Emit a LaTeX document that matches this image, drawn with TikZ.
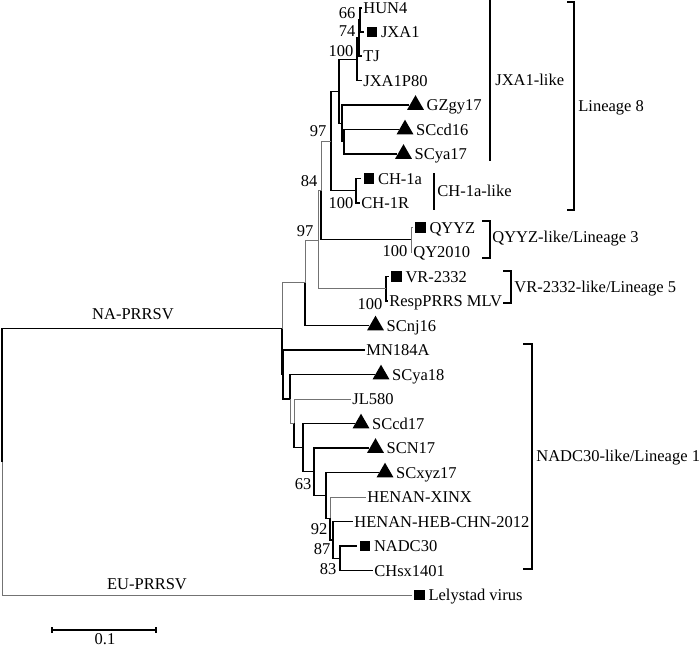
\documentclass[tikz,border=0pt]{standalone}
\usepackage{fontspec}
\setmainfont{Liberation Serif}
\usetikzlibrary{positioning,shapes.geometric}

\tikzset{
  br/.style={line width=0.6pt},
  brg/.style={line width=0.5pt, black!55},
  leaf/.style={anchor=west, inner sep=0.5pt, text height=5.5pt, text depth=0pt},
  bs/.style={inner sep=0pt, text height=5.5pt, text depth=0pt},
  sqmark/.style={fill, inner sep=0pt, minimum size=5.2pt, outer sep=1.2pt},
  trimark/.style={regular polygon, regular polygon sides=3, fill, inner sep=0pt, minimum size=9.8pt},
}

\begin{document}
\begin{tikzpicture}[x=0.5pt, y=-0.5pt, font=\fontsize{8.25}{10}\selectfont]
  \useasboundingbox (0,0) rectangle (700,648);

  % inner nodes of the tree
  \coordinate (root) at (2,462);
  \coordinate (nNA) at (282,328.75);
  \coordinate (n97b) at (305,282.75);
  \coordinate (nq) at (318,240);
  \coordinate (n84) at (321,190.5);
  \coordinate (nqy) at (411,239.75);
  \coordinate (nvr) at (386,288.75);
  \coordinate (n97a) at (331,141);
  \coordinate (nch) at (356,190.75);
  \coordinate (nj) at (339,91.3);
  \coordinate (n100j) at (357,59.2);
  \coordinate (n74) at (359,38);
  \coordinate (n66) at (360,20);
  \coordinate (ngz) at (342,123.4);
  \coordinate (ncy) at (344,141.75);
  \coordinate (nmn) at (283,374.5);
  \coordinate (nya) at (290,398.9);
  \coordinate (njl) at (294,423.3);
  \coordinate (ncd) at (303,447.6);
  \coordinate (n63) at (314,471.7);
  \coordinate (nxyz) at (326,495.5);
  \coordinate (n92) at (330,518.4);
  \coordinate (n87) at (333,539.9);
  \coordinate (n83) at (340,558.25);

  % leaves
  \node[leaf] (HUN4) at (362,8) {HUN4};
  \node[sqmark] (mJXA1) at (372,32) {};
  \node[leaf, right=0pt of mJXA1] (JXA1) {JXA1};
  \node[leaf] (TJ) at (362,56) {TJ};
  \node[leaf] (JXA1P80) at (362,80.5) {JXA1P80};
  \node[trimark] (mGZgy17) at (415.5,105) {};
  \node[leaf, right=1.8pt of mGZgy17] (GZgy17) {GZgy17};
  \node[trimark] (mSCcd16) at (405,129.5) {};
  \node[leaf, right=1.8pt of mSCcd16] (SCcd16) {SCcd16};
  \node[trimark] (mSCya17) at (403.5,154) {};
  \node[leaf, right=1.8pt of mSCya17] (SCya17) {SCya17};
  \node[sqmark] (mCH1a) at (369,178.5) {};
  \node[leaf, right=0pt of mCH1a] (CH1a) {CH-1a};
  \node[leaf] (CH1R) at (360,203) {CH-1R};
  \node[sqmark] (mQYYZ) at (420.5,227.5) {};
  \node[leaf, right=0pt of mQYYZ] (QYYZ) {QYYZ};
  \node[leaf] (QY2010) at (412,252) {QY2010};
  \node[sqmark] (mVR2332) at (396.5,276.5) {};
  \node[leaf, right=0pt of mVR2332] (VR2332) {VR-2332};
  \node[leaf] (RespMLV) at (388,301) {RespPRRS MLV};
  \node[trimark] (mSCnj16) at (375.5,325.5) {};
  \node[leaf, right=1.8pt of mSCnj16] (SCnj16) {SCnj16};
  \node[leaf] (MN184A) at (365,350) {MN184A};
  \node[trimark] (mSCya18) at (381,374.5) {};
  \node[leaf, right=1.8pt of mSCya18] (SCya18) {SCya18};
  \node[leaf] (JL580) at (351,399) {JL580};
  \node[trimark] (mSCcd17) at (361,423.5) {};
  \node[leaf, right=1.8pt of mSCcd17] (SCcd17) {SCcd17};
  \node[trimark] (mSCN17) at (375.5,448) {};
  \node[leaf, right=1.8pt of mSCN17] (SCN17) {SCN17};
  \node[trimark] (mSCxyz17) at (385,472.5) {};
  \node[leaf, right=1.8pt of mSCxyz17] (SCxyz17) {SCxyz17};
  \node[leaf] (XINX) at (366,497) {HENAN-XINX};
  \node[leaf] (HEB) at (353,521.5) {HENAN-HEB-CHN-2012};
  \node[sqmark] (mNADC30) at (365,546) {};
  \node[leaf, right=0pt of mNADC30] (NADC30) {NADC30};
  \node[leaf] (CHsx1401) at (373,570.5) {CHsx1401};
  \node[sqmark] (mLely) at (419.5,595) {};
  \node[leaf, right=0pt of mLely] (Lely) {Lelystad virus};

  % branches
  \foreach \a/\b in {root/nNA, nNA/nmn, n97b/mSCnj16, n84/nqy, nvr/mVR2332, nvr/RespMLV,
      n97a/nj, n97a/nch, nch/mCH1a, nch/CH1R, nj/n100j, nj/ngz, n100j/n74, n100j/JXA1P80,
      n74/n66, n74/TJ, n66/HUN4, n66/mJXA1, ngz/mGZgy17, ngz/ncy, ncy/mSCcd16, ncy/mSCya17,
      nmn/MN184A, nmn/nya, nya/mSCya18, njl/ncd, ncd/mSCcd17, ncd/n63, n63/mSCN17, n63/nxyz,
      nxyz/mSCxyz17, nxyz/n92, n92/n87, n87/HEB, n87/n83, n83/mNADC30, n83/CHsx1401}
    \draw[br] (\a) |- (\b);
  \foreach \a/\b in {root/mLely, nNA/n97b, n97b/nq, nq/n84, nq/nvr, n84/n97a,
      nqy/mQYYZ, nqy/QY2010, nya/njl, njl/JL580, n92/XINX}
    \draw[brg] (\a) |- (\b);

  % bootstrap values
  \node[bs] (b66) at (347,13) {66};
  \node[bs] (b74) at (347,31) {74};
  \node[bs] (b100j) at (341,51) {100};
  \node[bs] (b97a) at (318,131) {97};
  \node[bs] (b84) at (309,181) {84};
  \node[bs] (b100ch) at (341,203) {100};
  \node[bs] (b97b) at (305,231) {97};
  \node[bs] (b100qy) at (395,251) {100};
  \node[bs] (b100vr) at (370,304) {100};
  \node[bs] (b63) at (303,484) {63};
  \node[bs] (b92) at (319,529) {92};
  \node[bs] (b87) at (322,549) {87};
  \node[bs] (b83) at (328,569) {83};

  % groups
  \node[bs] (na) at (133,314) {NA-PRRSV};
  \node[bs] (eu) at (147,584) {EU-PRRSV};

  \coordinate (jxT) at (490,0);
  \coordinate (jxB) at (490,161);
  \draw[br] (jxT) -- (jxB);
  \node[leaf] (jxlab) at (494,80) {JXA1-like};

  \coordinate (l8T) at (567,2);
  \coordinate (l8B) at (567,210);
  \draw[br] (l8T) -- ++(7,0) |- (l8B);
  \node[leaf] (l8lab) at (577,106) {Lineage 8};

  \coordinate (chT) at (434,173);
  \coordinate (chB) at (434,210);
  \draw[br] (chT) -- (chB);
  \node[leaf] (chlab) at (436,191) {CH-1a-like};

  \coordinate (qyT) at (482,221);
  \coordinate (qyB) at (482,258);
  \draw[br] (qyT) -- ++(8,0) |- (qyB);
  \node[leaf] (qylab) at (491,237) {QYYZ-like/Lineage 3};

  \coordinate (vrT) at (503,271);
  \coordinate (vrB) at (503,303);
  \draw[br] (vrT) -- ++(8,0) |- (vrB);
  \node[leaf] (vrlab) at (513,287) {VR-2332-like/Lineage 5};

  \coordinate (ndT) at (523,344);
  \coordinate (ndB) at (523,569);
  \draw[br] (ndT) -- ++(9,0) |- (ndB);
  \node[leaf] (ndlab) at (535,456) {NADC30-like/Lineage 1};

  % scale bar
  \coordinate (sbL) at (52,630);
  \coordinate (sbR) at (156,630);
  \draw[br] (sbL) -- (sbR);
  \draw[br] ([yshift=1.5pt]sbL) -- ([yshift=-1.5pt]sbL);
  \draw[br] ([yshift=1.5pt]sbR) -- ([yshift=-1.5pt]sbR);
  \node[bs] (sblab) at (105,639) {0.1};
\end{tikzpicture}
\end{document}
